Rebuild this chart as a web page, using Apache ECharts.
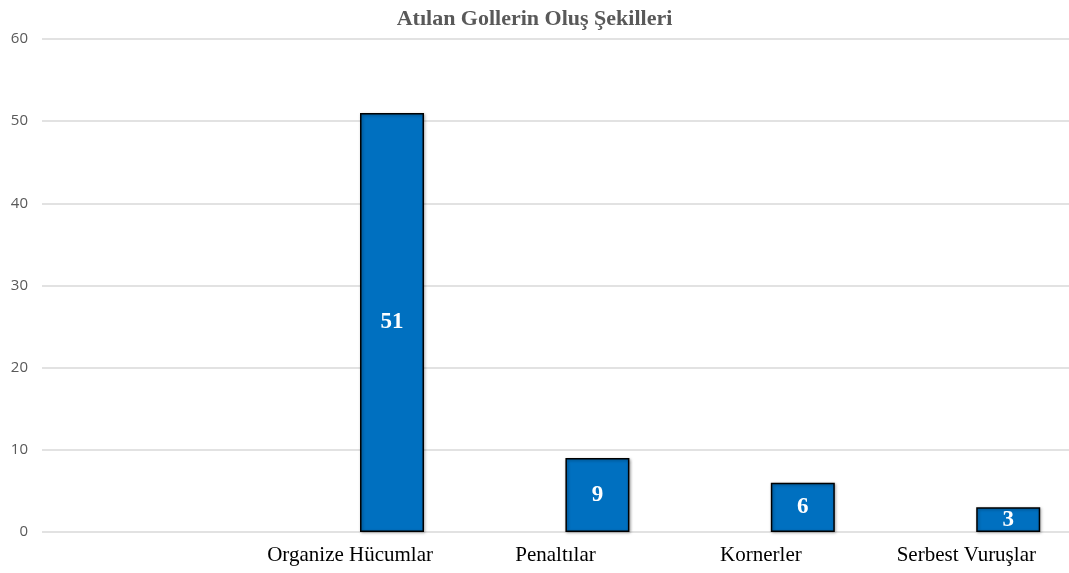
<!DOCTYPE html>
<html>
<head>
<meta charset="utf-8">
<title>Atılan Gollerin Oluş Şekilleri</title>
<script src="https://cdn.jsdelivr.net/npm/echarts@6/dist/echarts.min.js"></script>
<style>
  html, body { margin: 0; padding: 0; background: #fff; }
  #chart { width: 1069px; height: 573px; }
</style>
</head>
<body>
<div id="chart"></div>
<script>
  // data
  var categories = ['', 'Organize Hücumlar', 'Penaltılar', 'Kornerler', 'Serbest Vuruşlar'];
  var emptySeries = [null, null, null, null, null];
  var goals = [null, 51, 9, 6, 3];
  var yTicks = [0, 10, 20, 30, 40, 50, 60];

  var chart = echarts.init(document.getElementById('chart'));
  chart.setOption({
    animation: false,
    title: {
      text: 'Atılan Gollerin Oluş Şekilleri',
      left: 'center',
      top: 3,
      textStyle: {
        fontFamily: 'Liberation Serif',
        fontSize: 22,
        fontWeight: 'bold',
        color: '#595959'
      }
    },
    grid: {
      left: 42,
      top: 39,
      right: 0,
      bottom: 41,
      containLabel: false
    },
    xAxis: {
      type: 'category',
      data: categories,
      axisLine: { show: false },
      axisTick: { show: false },
      axisLabel: {
        interval: 0,
        margin: 13,
        fontFamily: 'Liberation Serif',
        fontSize: 21,
        color: '#000'
      }
    },
    yAxis: {
      type: 'value',
      min: yTicks[0],
      max: yTicks[yTicks.length - 1],
      interval: 10,
      axisLine: { show: false },
      axisTick: { show: false },
      axisLabel: {
        margin: 14,
        fontFamily: 'Open Sans',
        fontSize: 15,
        color: '#595959'
      },
      splitLine: { lineStyle: { color: '#d9d9d9', width: 1.5 } }
    },
    series: [
      {
        name: 'boş',
        type: 'bar',
        data: emptySeries,
        barWidth: 64,
        barGap: '31%'
      },
      {
        name: 'Goller',
        type: 'bar',
        data: goals,
        barWidth: 64,
        barGap: '31%',
        itemStyle: {
          color: '#0070C0',
          borderColor: '#000',
          borderWidth: 1.5,
          shadowColor: 'rgba(0,0,0,0.35)',
          shadowBlur: 3,
          shadowOffsetX: 1,
          shadowOffsetY: 1
        },
        label: {
          show: true,
          position: 'inside',
          fontFamily: 'Liberation Serif',
          fontSize: 23,
          fontWeight: 'bold',
          color: '#fff'
        }
      }
    ]
  });
</script>
</body>
</html>
